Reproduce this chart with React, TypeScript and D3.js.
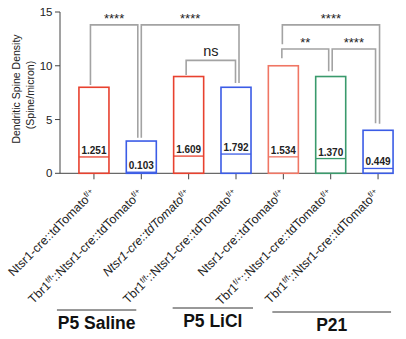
import React from "react";
import * as d3 from "d3";

const categories = ["a", "b", "c", "d", "e", "f", "g"];
const barTops = [8, 3, 9, 8, 10, 9, 4];
const meanValues = [1.52, 0.1, 1.6, 1.79, 1.53, 1.37, 0.45];
const meanLabels = ["1.251", "0.103", "1.609", "1.792", "1.534", "1.370", "0.449"];
const barColors = ["#e8412f", "#3b5ce6", "#e8412f", "#3b5ce6", "#f07664", "#3a9a6c", "#3b5ce6"];

// genotype labels, split into [text, superscript] pieces
const genotypes: [string, string][][] = [
  [["Ntsr1-cre::tdTomato", "f/+"]],
  [["Tbr1", "f/f"], ["::Ntsr1-cre::tdTomato", "f/+"]],
  [["Ntsr1-cre::tdTomato", "f/+"]],
  [["Tbr1", "f/f"], ["::Ntsr1-cre::tdTomato", "f/+"]],
  [["Ntsr1-cre::tdTomato", "f/+"]],
  [["Tbr1", "f/+"], ["::Ntsr1-cre::tdTomato", "f/+"]],
  [["Tbr1", "f/f"], ["::Ntsr1-cre::tdTomato", "f/+"]],
];
const italicLabel = [false, false, true, false, false, false, false];

// comparisons: from bar, to bar, bracket level, left leg end, right leg end, label
const comparisons = [
  { from: 0, to: 1, top: 13.8, left: 8.2, right: 3.3, label: "****" },
  { from: 1, to: 3, top: 13.8, left: 3.3, right: 8.4, label: "****" },
  { from: 2, to: 3, top: 10.5, left: 9.15, right: 8.4, label: "ns" },
  { from: 4, to: 6, top: 13.8, left: 12.0, right: 4.6, label: "****" },
  { from: 4, to: 5, top: 11.56, left: 10.7, right: 9.5, label: "**" },
  { from: 5, to: 6, top: 11.56, left: 9.5, right: 4.65, label: "****" },
];
const legShift = [
  [-3.5, -3.5],
  [0, 3],
  [-2.5, -0.5],
  [-1, 1.5],
  [-1.5, -2],
  [1.5, -2.5],
];

const groups = ["P5 Saline", "P5 LiCl", "P21"];
const groupBars = [[0, 1], [2, 3], [4, 6]];
const groupSpan = [[-37, -5], [-16, 17], [-11, 13]];
const groupLineY = [310, 308, 312];

const yTicks = [0, 5, 10, 15];

const W = 406;
const H = 339;
const font = "'Liberation Sans', Arial, Helvetica, sans-serif";

export default function App() {
  const y = d3.scaleLinear().domain([0, 15]).range([173.3, 12]);
  const x = d3
    .scaleBand<string>()
    .domain(categories)
    .range([60, 412])
    .paddingInner(0.366)
    .paddingOuter(0.4);
  const bw = x.bandwidth();
  const cx = (i: number) => (x(categories[i]) as number) + bw / 2;

  return (
    <svg width={W} height={H} style={{ position: "absolute", left: 0, top: 0 }} fontFamily={font}>
      <rect width={W} height={H} fill="#fff" />

      {/* y axis */}
      <line x1={60} x2={60} y1={y(15)} y2={y(0)} stroke="#444" strokeWidth={1} />
      {yTicks.map((t) => (
        <g key={t}>
          <line x1={55} x2={60} y1={y(t)} y2={y(t)} stroke="#444" />
          <text x={52.5} y={y(t)} dy="0.35em" textAnchor="end" fontSize={11.5} fill="#222">
            {t}
          </text>
        </g>
      ))}
      <text transform="translate(20,89) rotate(-90)" textAnchor="middle" fontSize={10.5} fill="#222">
        Dendritic Spine Density
      </text>
      <text transform="translate(34,95) rotate(-90)" textAnchor="middle" fontSize={10.5} fill="#222">
        (Spine/micron)
      </text>

      {/* x axis */}
      <line x1={60} x2={393} y1={y(0)} y2={y(0)} stroke="#444" />
      {categories.map((c, i) => (
        <line key={c} x1={cx(i)} x2={cx(i)} y1={y(0)} y2={y(0) + 6} stroke="#444" />
      ))}

      {/* bars */}
      {categories.map((c, i) => (
        <g key={c}>
          <rect
            x={x(c)}
            y={y(barTops[i])}
            width={bw}
            height={y(0) - y(barTops[i])}
            fill="none"
            stroke={barColors[i]}
            strokeWidth={1.6}
          />
          <line x1={x(c)} x2={(x(c) as number) + bw} y1={y(meanValues[i])} y2={y(meanValues[i])} stroke={barColors[i]} strokeWidth={1.3} />
          <text x={cx(i)} y={y(meanValues[i]) - 3} textAnchor="middle" fontSize={10} fontWeight="bold" fill="#222">
            {meanLabels[i]}
          </text>
        </g>
      ))}

      {/* significance brackets */}
      {comparisons.map((b, k) => {
        const x1 = cx(b.from) + legShift[k][0];
        const x2 = cx(b.to) + legShift[k][1];
        const ns = b.label === "ns";
        return (
          <g key={k}>
            <path
              d={`M${x1},${y(b.left)}V${y(b.top)}H${x2}V${y(b.right)}`}
              fill="none"
              stroke="#a3a3a3"
              strokeWidth={1.6}
            />
            <text
              x={(x1 + x2) / 2}
              y={y(b.top) - (ns ? 4.5 : 2.2)}
              textAnchor="middle"
              fontSize={ns ? 14.5 : 13}
              fill="#222"
            >
              {b.label}
            </text>
          </g>
        );
      })}

      {/* genotype labels */}
      {genotypes.map((parts, i) => (
        <text
          key={i}
          transform={`translate(${cx(i) + 2},${y(0) + 21}) rotate(-45)`}
          textAnchor="end"
          fontSize={12.3}
          fontStyle={italicLabel[i] ? "italic" : "normal"}
          fill="#222"
        >
          {parts.map(([t, s], j) => (
            <React.Fragment key={j}>
              <tspan dy={j === 0 ? 0 : 4}>{t}</tspan>
              <tspan fontSize={7.8} dy={-4} fontStyle="normal">
                {s}
              </tspan>
            </React.Fragment>
          ))}
        </text>
      ))}

      {/* groups */}
      {groups.map((g, i) => {
        const x1 = cx(groupBars[i][0]) + groupSpan[i][0];
        const x2 = cx(groupBars[i][1]) + groupSpan[i][1];
        return (
          <g key={g}>
            <line x1={x1} x2={x2} y1={groupLineY[i]} y2={groupLineY[i]} stroke="#333" strokeWidth={1} />
            <text x={(x1 + x2) / 2} y={groupLineY[i] + 19} textAnchor="middle" fontSize={17.5} fontWeight="bold" fill="#111">
              {g}
            </text>
          </g>
        );
      })}
    </svg>
  );
}
